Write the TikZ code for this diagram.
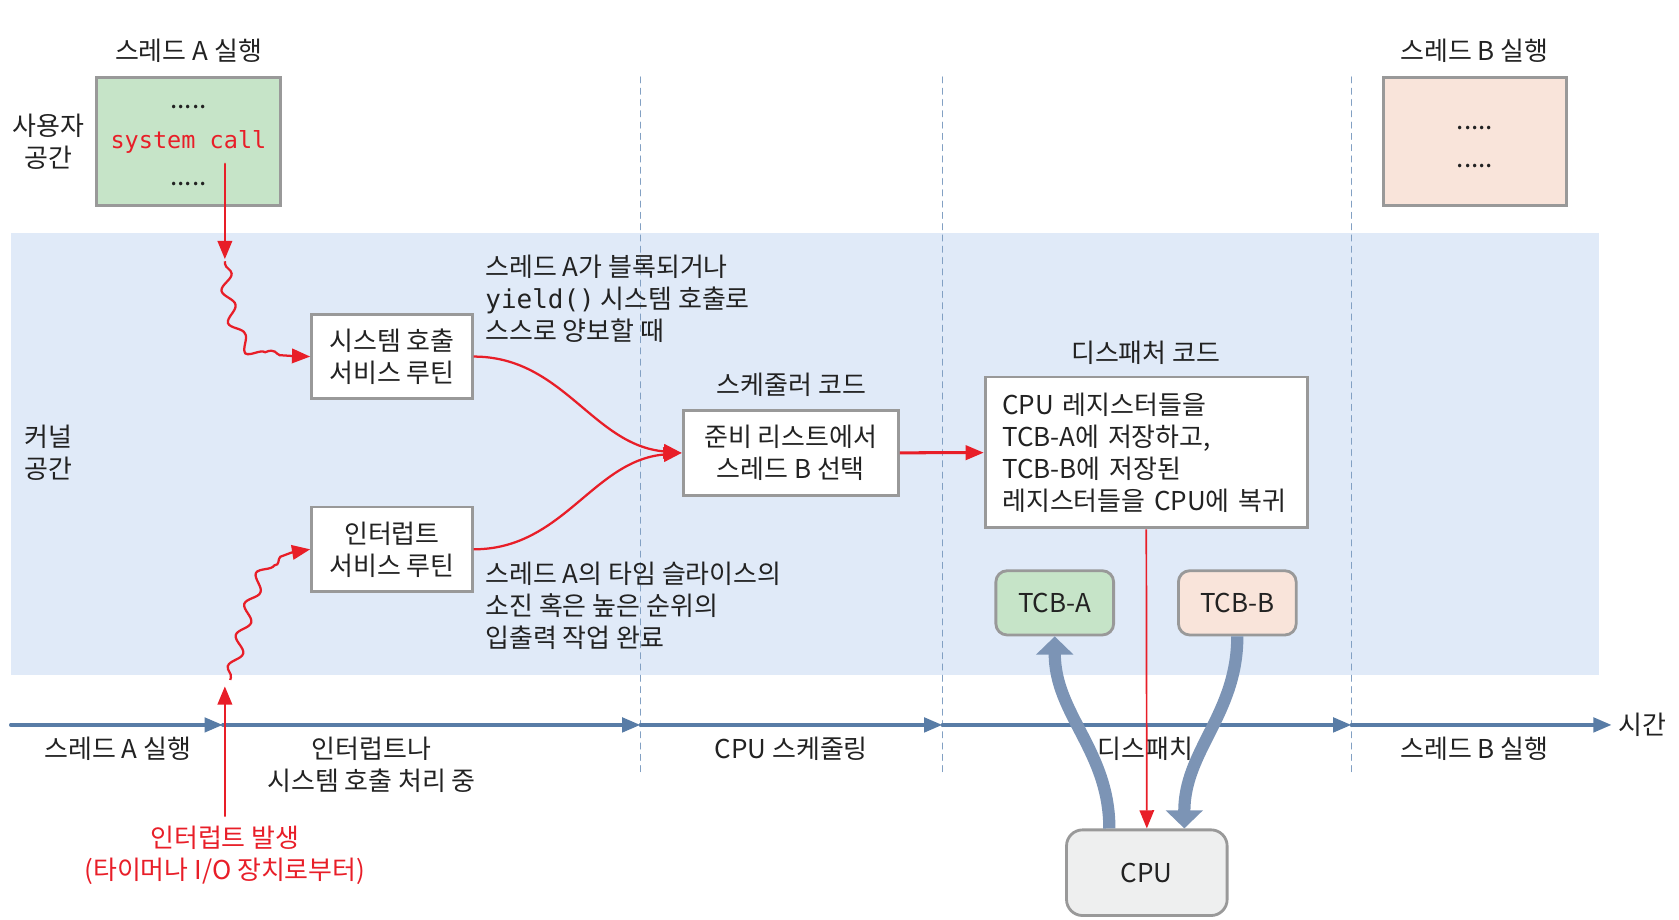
\documentclass[tikz,border=0pt]{standalone}
\usepackage{fontspec}
\setmainfont{Noto Sans CJK KR}
\setmonofont{DejaVu Sans Mono}
\usepackage{tikz}
\usepackage{tkz-euclide}
\usetikzlibrary{arrows.meta,decorations.pathmorphing}

\definecolor{ink}{RGB}{34,34,34}
\definecolor{boxgray}{RGB}{153,153,153}
\definecolor{usergreen}{RGB}{198,228,200}
\definecolor{userpink}{RGB}{249,228,218}
\definecolor{kernelblue}{RGB}{224,234,248}
\definecolor{phaseblue}{RGB}{130,160,195}
\definecolor{timeblue}{RGB}{88,124,166}
\definecolor{ctxblue}{RGB}{124,148,181}
\definecolor{cpugray}{RGB}{238,239,239}
\definecolor{sysred}{RGB}{232,30,40}

\begin{document}
\begin{tikzpicture}[%
  font = \fontsize{13.8pt}{17pt}\selectfont,
  txt/.style = {text=ink, align=center, inner sep=0pt},
  codebox/.style = {draw=boxgray, line width=1.5pt, fill=white, text=ink, align=center},
  tcb/.style = {codebox, rounded corners=6pt, minimum width=2.2cm, minimum height=1.2cm},
  phase/.style = {draw=phaseblue, line width=0.8pt, dashed},
  timeline/.style = {draw=timeblue, line width=1.8pt, ->},
  redline/.style = {draw=sysred, line width=1.2pt, ->},
  wavy/.style = {redline, decorate,
    decoration={snake, amplitude=0.11cm, segment length=0.6cm, pre length=0.05cm, post length=0.35cm}},
  ctxarrow/.style = {draw=ctxblue, line width=6.5pt, -{Triangle[length=0.34cm,width=0.68cm]}},
  >={Triangle[length=0.34cm,width=0.27cm]},
]

  \useasboundingbox (0,0) rectangle (31.36,-17.18);

  % kernel space
  \fill[kernelblue] (0.2,-4.36) rectangle (29.86,-12.6);

  % phase borders
  \tkzDefPoint(11.96,-1.44){P1}
  \tkzDefPoint(11.96,-14.48){Q1}
  \tkzDefPoint(17.6,-1.44){P2}
  \tkzDefPoint(17.6,-14.48){Q2}
  \tkzDefPoint(25.24,-1.44){P3}
  \tkzDefPoint(25.24,-14.48){Q3}
  \tkzDrawSegments[phase](P1,Q1 P2,Q2 P3,Q3)

  % time axis
  \tkzDefPoint(0.2,-13.54){T0}
  \tkzDefPoint(4.16,-13.54){T1}
  \tkzDefPoint(11.96,-13.54){T2}
  \tkzDefPoint(17.6,-13.54){T3}
  \tkzDefPoint(25.24,-13.54){T4}
  \tkzDefPoint(30.1,-13.54){T5}
  \tkzDrawSegments[timeline](T0,T1 T1,T2 T2,T3 T3,T4 T4,T5)
  \tkzLabelPoint[right,text=ink,font=\fontsize{13.8pt}{17pt}\selectfont](T5){시간}

  \node[txt] (runa) at (2.2,-13.98) {스레드 A 실행};
  \node[txt] (handle) at (6.94,-14.28) {인터럽트나\\시스템 호출 처리 중};
  \node[txt] (sched_lbl) at (14.78,-13.98) {CPU 스케줄링};
  \node[txt] (disp_lbl) at (21.4,-13.98) {디스패치};
  \node[txt] (runb) at (27.54,-13.98) {스레드 B 실행};

  % user space
  \node[txt] (user) at (0.9,-2.64) {사용자\\공간};
  \node[txt] (kernel) at (0.9,-8.45) {커널\\공간};

  \node[txt] (titlea) at (3.52,-0.94) {스레드 A 실행};
  \node[codebox, fill=usergreen, minimum width=3.44cm, minimum height=2.4cm] (usera) at (3.52,-2.64) {};
  \node[txt] at (3.52,-2.0) {.....};
  \node[txt, text=sysred, font=\ttfamily\fontsize{12.5pt}{17pt}\selectfont] (call) at (3.52,-2.66) {system call};
  \node[txt] at (3.52,-3.44) {.....};

  \node[txt] (titleb) at (27.54,-0.94) {스레드 B 실행};
  \node[codebox, fill=userpink, minimum width=3.42cm, minimum height=2.4cm] (userb) at (27.55,-2.64) {};
  \node[txt] at (27.55,-2.4) {.....};
  \node[txt] at (27.55,-3.1) {.....};

  % kernel code
  \node[codebox, minimum width=3.0cm, minimum height=1.58cm] (syscall) at (7.32,-6.66) {시스템 호출\\서비스 루틴};
  \node[codebox, minimum width=3.0cm, minimum height=1.58cm] (intr) at (7.32,-10.26) {인터럽트\\서비스 루틴};

  \node[txt, anchor=west, align=left] (why1) at (9.06,-5.58)
    {스레드 A가 블록되거나\\\texttt{yield()} 시스템 호출로\\스스로 양보할 때};
  \node[txt, anchor=west, align=left] (why2) at (9.06,-11.32)
    {스레드 A의 타임 슬라이스의\\소진 혹은 높은 순위의\\입출력 작업 완료};

  \node[txt] (schedname) at (14.78,-7.18) {스케줄러 코드};
  \node[codebox, minimum width=4.02cm, minimum height=1.6cm] (sched) at (14.77,-8.46) {준비 리스트에서\\스레드 B 선택};

  \node[txt] (dispname) at (21.4,-6.58) {디스패처 코드};
  \node[codebox, align=left, text width=5.38cm, inner xsep=0.32cm, minimum height=2.82cm] (disp) at (21.41,-8.45)
    {CPU 레지스터들을\\TCB-A에 저장하고,\\TCB-B에 저장된\\레지스터들을 CPU에 복귀};

  \node[tcb, fill=usergreen] (tcba) at (19.7,-11.26) {TCB-A};
  \node[tcb, fill=userpink] (tcbb) at (23.11,-11.26) {TCB-B};
  \node[codebox, fill=cpugray, rounded corners=0.3cm, minimum width=3.0cm, minimum height=1.6cm] (cpu) at (21.42,-16.3) {CPU};

  % system call path
  \tkzDefPoint(4.2,-3.06){S0}
  \tkzDefPoint(4.2,-4.84){S1}
  \tkzDrawSegment[redline](S0,S1)
  \coordinate (scw) at (4.2,-4.88);
  \draw[wavy] (scw) .. controls (4.3,-6.4) and (4.7,-6.66) .. (syscall.west);

  % interrupt path
  \node[txt, text=sysred] (irq) at (4.2,-15.98) {인터럽트 발생\\(타이머나 I/O 장치로부터)};
  \tkzDefPoint(4.2,-15.24){I0}
  \tkzDefPoint(4.2,-12.82){I1}
  \tkzDrawSegment[redline](I0,I1)
  \coordinate (irw) at (4.3,-12.7);
  \draw[wavy] (irw) .. controls (4.7,-11.2) and (4.8,-10.3) .. (intr.west);

  \draw[redline] (syscall.east) to[out=0,in=175] (sched.west);
  \draw[redline] (intr.east) to[out=0,in=185] (sched.west);
  \draw[redline, line width=1.6pt] (sched) -- (disp);
  \draw[redline, line width=0.9pt] (disp.south) -- (cpu.north);

  % register save / restore
  \draw[ctxarrow] ([xshift=-0.7cm]cpu.north) to[out=90,in=-90] (tcba.south);
  \draw[ctxarrow] (tcbb.south) to[out=-90,in=90] ([xshift=0.7cm]cpu.north);

\end{tikzpicture}
\end{document}
